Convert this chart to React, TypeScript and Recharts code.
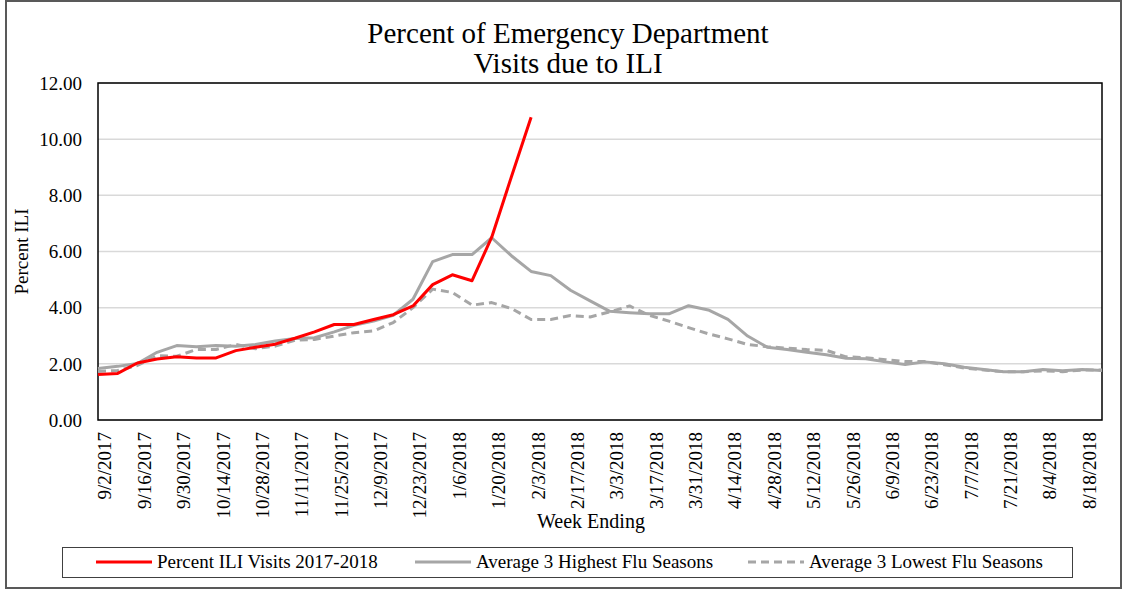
import { LineChart, Line, XAxis, YAxis, CartesianGrid, Legend, ReferenceArea } from 'recharts'

const FONT = '"Liberation Serif", "Times New Roman", Times, serif'

const WEEKS = [
  '9/2/2017', '9/9/2017', '9/16/2017', '9/23/2017', '9/30/2017', '10/7/2017', '10/14/2017',
  '10/21/2017', '10/28/2017', '11/4/2017', '11/11/2017', '11/18/2017', '11/25/2017', '12/2/2017',
  '12/9/2017', '12/16/2017', '12/23/2017', '12/30/2017', '1/6/2018', '1/13/2018', '1/20/2018',
  '1/27/2018', '2/3/2018', '2/10/2018', '2/17/2018', '2/24/2018', '3/3/2018', '3/10/2018',
  '3/17/2018', '3/24/2018', '3/31/2018', '4/7/2018', '4/14/2018', '4/21/2018', '4/28/2018',
  '5/5/2018', '5/12/2018', '5/19/2018', '5/26/2018', '6/2/2018', '6/9/2018', '6/16/2018',
  '6/23/2018', '6/30/2018', '7/7/2018', '7/14/2018', '7/21/2018', '7/28/2018', '8/4/2018',
  '8/11/2018', '8/18/2018', '8/25/2018',
]

// season so far (stops at 2/3/2018)
const CURRENT = [
  1.62, 1.66, 2.03, 2.17, 2.25, 2.21, 2.21, 2.47, 2.59, 2.7, 2.91, 3.14, 3.4, 3.4, 3.58, 3.75,
  4.06, 4.82, 5.17, 4.96, 6.51, 8.66, 10.78,
]

const HIGH_AVG = [
  1.83, 1.91, 2.01, 2.41, 2.65, 2.61, 2.65, 2.63, 2.69, 2.81, 2.9, 2.93, 3.14, 3.37, 3.52, 3.73,
  4.3, 5.64, 5.89, 5.89, 6.49, 5.85, 5.29, 5.14, 4.62, 4.24, 3.87, 3.82, 3.78, 3.78, 4.07, 3.92,
  3.58, 2.99, 2.59, 2.51, 2.41, 2.32, 2.2, 2.18, 2.07, 1.98, 2.07, 2.0, 1.88, 1.8, 1.72, 1.72,
  1.8, 1.75, 1.8, 1.76,
]

const LOW_AVG = [
  1.73, 1.76, 1.94, 2.29, 2.27, 2.51, 2.51, 2.69, 2.54, 2.63, 2.84, 2.87, 2.99, 3.11, 3.17, 3.47,
  4.0, 4.66, 4.54, 4.09, 4.18, 3.97, 3.58, 3.58, 3.72, 3.67, 3.85, 4.06, 3.73, 3.52, 3.29, 3.07,
  2.89, 2.69, 2.61, 2.56, 2.51, 2.48, 2.25, 2.22, 2.15, 2.08, 2.08, 1.97, 1.85, 1.78, 1.72, 1.72,
  1.75, 1.72, 1.78, 1.78,
]

const Y_TICKS = [0, 2, 4, 6, 8, 10, 12]

const SERIES = [
  { key: 'current', label: 'Percent ILI Visits 2017-2018', color: '#ff0000', dash: undefined },
  { key: 'high', label: 'Average 3 Highest Flu Seasons', color: '#a6a6a6', dash: undefined },
  { key: 'low', label: 'Average 3 Lowest Flu Seasons', color: '#a6a6a6', dash: '8 5' },
] as const

// draw order: grey averages underneath, this season on top
const DRAW_ORDER = ['high', 'low', 'current']

const data = WEEKS.map((week, i) => ({
  week,
  current: i < CURRENT.length ? CURRENT[i] : null,
  high: HIGH_AVG[i],
  low: LOW_AVG[i],
}))

const LEGEND_X = [33, 352, 685]

function LegendBox() {
  return (
    <div
      style={{
        position: 'relative',
        width: 1011,
        height: 31,
        border: '1.5px solid #404040',
        boxSizing: 'border-box',
        background: '#fff',
        fontFamily: FONT,
        fontSize: 19,
        color: '#000',
      }}
    >
      {SERIES.map((s, i) => (
        <div
          key={s.key}
          style={{
            position: 'absolute',
            left: LEGEND_X[i],
            top: 0,
            height: 28,
            display: 'flex',
            alignItems: 'center',
            whiteSpace: 'nowrap',
          }}
        >
          <svg width={56} height={6} style={{ marginRight: 5 }}>
            <line x1={0} y1={3} x2={56} y2={3} stroke={s.color} strokeWidth={3} strokeDasharray={s.dash} />
          </svg>
          <span>{s.label}</span>
        </div>
      ))}
    </div>
  )
}

export default function App() {
  const ordered = DRAW_ORDER.map((k) => SERIES.find((s) => s.key === k)!)
  return (
    <div
      style={{
        position: 'absolute',
        left: 0,
        top: 0,
        width: 1128,
        height: 593,
        background: '#fff',
        fontFamily: FONT,
        color: '#000',
      }}
    >
      <div
        style={{
          position: 'absolute',
          left: 5,
          top: 0,
          width: 1117,
          height: 589,
          border: '2px solid #595959',
          boxSizing: 'border-box',
        }}
      />
      <LineChart
        width={1128}
        height={593}
        data={data}
        margin={{ top: 83, right: 26, bottom: 34, left: 8 }}
        style={{ position: 'absolute', left: 0, top: 0 }}
      >
        <CartesianGrid vertical={false} stroke="#d9d9d9" strokeWidth={1.5} />
        <XAxis
          dataKey="week"
          interval={1}
          height={108}
          axisLine={false}
          tickLine={false}
          tickMargin={6}
          tick={{ angle: -90, textAnchor: 'end', verticalAnchor: 'middle', fill: '#000', fontSize: 19 }}
          label={{ value: 'Week Ending', position: 'insideBottom', offset: 0, dx: -9, fill: '#000', fontSize: 20 }}
        />
        <YAxis
          domain={[0, 12]}
          ticks={Y_TICKS}
          width={90}
          axisLine={false}
          tickLine={false}
          tickMargin={10}
          tickFormatter={(v: number) => v.toFixed(2)}
          tick={{ fill: '#000', fontSize: 19 }}
          label={{
            value: 'Percent ILI',
            angle: -90,
            position: 'insideLeft',
            offset: 13,
            fill: '#000',
            fontSize: 19,
            style: { textAnchor: 'middle' },
          }}
        />
        <ReferenceArea y1={0} y2={12} fill="none" stroke="#000" strokeWidth={1.5} ifOverflow="visible" />
        {ordered.map((s) => (
          <Line
            key={s.key}
            dataKey={s.key}
            name={s.label}
            type="linear"
            stroke={s.color}
            strokeWidth={3}
            strokeDasharray={s.dash}
            strokeLinejoin="round"
            dot={false}
            activeDot={false}
            isAnimationActive={false}
          />
        ))}
        <Legend
          content={<LegendBox />}
          wrapperStyle={{ left: 62, top: 547, bottom: 'auto', width: 1011, height: 31 }}
        />
      </LineChart>
      <div
        style={{
          position: 'absolute',
          left: 268,
          top: 18,
          width: 600,
          textAlign: 'center',
          fontSize: 29,
          lineHeight: '30px',
        }}
      >
        Percent of Emergency Department
        <br />
        Visits due to ILI
      </div>
    </div>
  )
}
